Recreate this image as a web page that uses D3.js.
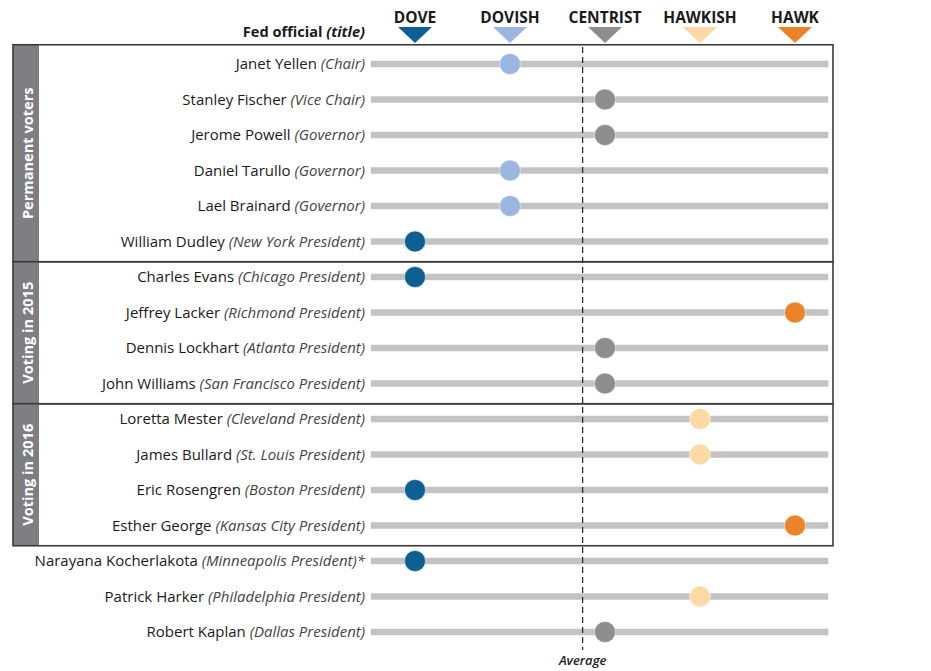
<!DOCTYPE html>
<html><head><meta charset="utf-8">
<script src="https://cdn.jsdelivr.net/npm/d3@7"></script>
<style>
body{margin:0;background:#fff;}
svg{font-family:"Open Sans", Lato, sans-serif;}
</style></head>
<body><svg id="c" width="931" height="671"></svg>
<script>
const officials = ["Janet Yellen","Stanley Fischer","Jerome Powell","Daniel Tarullo","Lael Brainard","William Dudley","Charles Evans","Jeffrey Lacker","Dennis Lockhart","John Williams","Loretta Mester","James Bullard","Eric Rosengren","Esther George","Narayana Kocherlakota","Patrick Harker","Robert Kaplan"];
const titles = ["(Chair)","(Vice Chair)","(Governor)","(Governor)","(Governor)","(New York President)","(Chicago President)","(Richmond President)","(Atlanta President)","(San Francisco President)","(Cleveland President)","(St. Louis President)","(Boston President)","(Kansas City President)","(Minneapolis President)*","(Philadelphia President)","(Dallas President)"];
// 0 = dove, 1 = dovish, 2 = centrist, 3 = hawkish, 4 = hawk
const stance = [1,2,2,1,1,0,0,4,2,2,3,3,0,4,0,3,2];
const categories = ["DOVE","DOVISH","CENTRIST","HAWKISH","HAWK"];
const catColors = ["#0e5f94","#9bb6df","#8e8e91","#fcd9a5","#ea832a"];
const groups = [
  {name:"Permanent voters", start:0, end:5},
  {name:"Voting in 2015", start:6, end:9},
  {name:"Voting in 2016", start:10, end:13}
];

const svg = d3.select("#c");
const x = d3.scaleLinear().domain([0,4]).range([415,795]);
const y = d3.scalePoint().domain(d3.range(officials.length)).range([64,632]);
const step = y.step();
const barX0 = x(-0.465), barX1 = x(4.35);
const avg = d3.mean(stance);

// group boxes
groups.forEach((g,i)=>{
  const top = (i===0) ? y(g.start)-step/2-1.5 : y(g.start)-step/2+2.5;
  const bot = y(g.end)+step/2+2.5;
  svg.append("rect").attr("x",13).attr("y",top).attr("width",26).attr("height",bot-top).attr("fill","#7f7f81");
  svg.append("text").attr("transform",`translate(26.5,${(top+bot)/2}) rotate(-90)`)
    .attr("text-anchor","middle").attr("dominant-baseline","central")
    .attr("fill","#fff").attr("font-weight","bold").attr("font-size",14.6).text(g.name);
  svg.append("rect").attr("x",13).attr("y",top).attr("width",820).attr("height",bot-top)
    .attr("fill","none").attr("stroke","#3a3a3a").attr("stroke-width",1.6);
});

// bars
svg.append("g").selectAll("line").data(officials).join("line")
  .attr("x1",barX0).attr("x2",barX1)
  .attr("y1",(d,i)=>y(i)).attr("y2",(d,i)=>y(i))
  .attr("stroke","#c3c3c5").attr("stroke-width",6.5);

// average line
svg.append("line").attr("x1",x(avg)).attr("x2",x(avg)).attr("y1",47).attr("y2",650)
  .attr("stroke","#222").attr("stroke-width",1.2).attr("stroke-dasharray","6,4");
svg.append("text").attr("x",x(avg)).attr("y",665).attr("text-anchor","middle")
  .attr("font-style","italic").attr("font-weight",600).attr("font-size",13).attr("fill","#222").text("Average");

// labels
const lab = svg.append("g").selectAll("text").data(officials).join("text")
  .attr("x",365).attr("y",(d,i)=>y(i)).attr("dy","0.35em").attr("text-anchor","end")
  .attr("font-size",15).attr("fill","#1a1a1a");
lab.append("tspan").text(d=>d+" ");
lab.append("tspan").attr("font-style","italic").attr("fill","#444").text((d,i)=>titles[i]);

// dots
svg.append("g").selectAll("circle").data(stance).join("circle")
  .attr("cx",d=>x(d)).attr("cy",(d,i)=>y(i)).attr("r",10.5)
  .attr("fill",d=>catColors[d]).attr("stroke","#fff").attr("stroke-opacity",0.5).attr("stroke-width",1);

// header
const hdr = svg.append("text").attr("x",365).attr("y",37).attr("text-anchor","end")
  .attr("font-weight","bold").attr("font-size",14.6).attr("fill","#1a1a1a");
hdr.append("tspan").text("Fed official ");
hdr.append("tspan").attr("font-style","italic").text("(title)");

const hg = svg.append("g").selectAll("g").data(categories).join("g")
  .attr("transform",(d,i)=>`translate(${x(i)},0)`);
hg.append("text").attr("y",23).attr("text-anchor","middle").attr("font-weight","bold")
  .attr("font-size",15.5).attr("fill","#1a1a1a").text(d=>d);
hg.append("path").attr("d","M-17,27L17,27L0,43Z").attr("fill",(d,i)=>catColors[i]);
</script></body></html>
